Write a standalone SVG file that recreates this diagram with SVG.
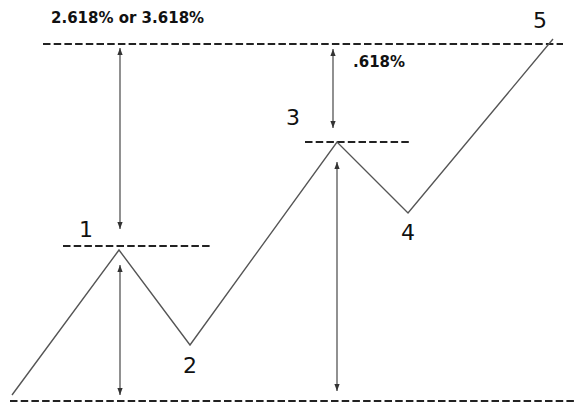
<svg xmlns="http://www.w3.org/2000/svg" width="574" height="403" viewBox="0 0 574 403">
<defs>
<marker id="ah" viewBox="0 0 8 6" refX="8" refY="3" markerWidth="7" markerHeight="5.5" markerUnits="userSpaceOnUse" orient="auto-start-reverse">
<path d="M0,0 L8,3 L0,6 z" fill="#333"/>
</marker>
</defs>
<style>
.dash{stroke:#222;stroke-width:2.2;stroke-dasharray:7.5 3.2;fill:none}
.wave{stroke:#555;stroke-width:1.4;fill:none}
.arr{stroke:#555;stroke-width:1.3;fill:none;marker-start:url(#ah);marker-end:url(#ah)}
.num{font-family:"DejaVu Sans",Verdana,sans-serif;font-size:22px;fill:#111}
.pct{font-family:"DejaVu Sans",Verdana,sans-serif;font-weight:bold;font-size:15px;fill:#111}
</style>
<g id="levels">
<line class="dash" x1="43" y1="44" x2="563" y2="44"/>
<line class="dash" x1="10" y1="401" x2="574" y2="401"/>
<line class="dash" x1="63" y1="246" x2="212" y2="246"/>
<line class="dash" x1="305" y1="142" x2="411" y2="142"/>
</g>
<g id="wave">
<polyline class="wave" points="12,395 119,250 190,345 337,142 408,213 553,39"/>
</g>
<g id="connectors">
<line class="arr" x1="120" y1="48" x2="120" y2="229"/>
<line class="arr" x1="120" y1="265" x2="120" y2="395"/>
<line class="arr" x1="333" y1="49" x2="333" y2="128"/>
<line class="arr" x1="337" y1="162" x2="337" y2="391"/>
</g>
<g id="labels">
<text class="pct" x="51" y="23">2.618% or 3.618%</text>
<text class="pct" x="353" y="67">.618%</text>
<text class="num" x="79" y="237">1</text>
<text class="num" x="183" y="373">2</text>
<text class="num" x="286" y="125">3</text>
<text class="num" x="401" y="240">4</text>
<text class="num" x="533" y="28">5</text>
</g>
</svg>
